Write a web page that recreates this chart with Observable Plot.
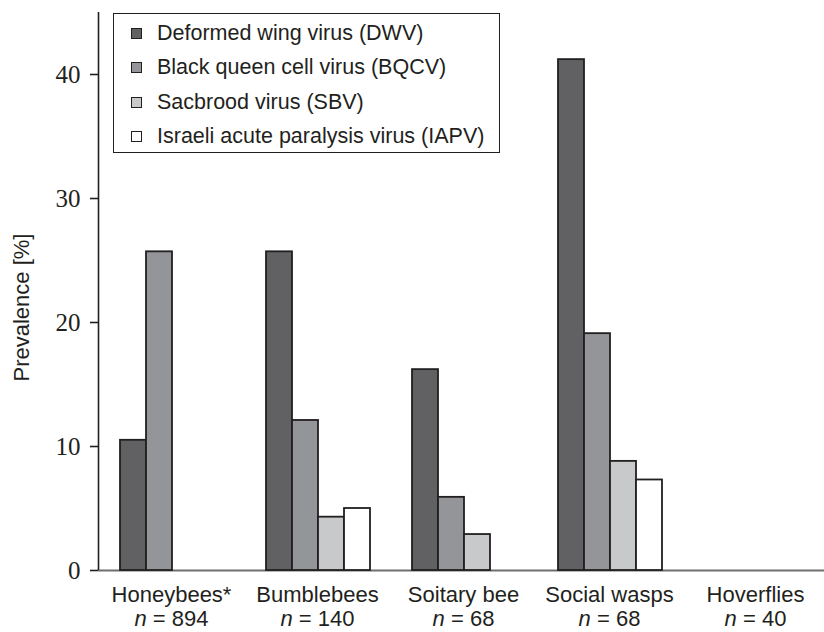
<!DOCTYPE html>
<html>
<head>
<meta charset="utf-8">
<script src="https://cdn.jsdelivr.net/npm/d3@7"></script>
<script src="https://cdn.jsdelivr.net/npm/@observablehq/plot@0.6"></script>
<style>
  body { margin: 0; background: #fff; }
  #wrap { position: relative; width: 824px; height: 632px; overflow: hidden; background: #fff; }
  #wrap svg { position: absolute; left: 0; top: 0; }
  #wrap g[aria-label="y-axis tick label"] { font-family: "Liberation Serif", "DejaVu Serif", serif; font-size: 25px; fill: #231f20; }
  #wrap g[aria-label="y-axis label"] { font-family: "Liberation Sans", Arial, sans-serif; font-size: 22px; fill: #231f20; }
  #wrap g[aria-label="fx-axis tick label"] { font-family: "Liberation Sans", Arial, sans-serif; font-size: 22px; fill: #231f20; }
  #legend { position: absolute; left: 113px; top: 13px; width: 385px; height: 136px; border: 1.6px solid #231f20; background: #fff;
            font-family: "Liberation Sans", Arial, sans-serif; font-size: 21.5px; color: #231f20; padding-top: 2px; }
  #legend .row { display: flex; align-items: center; height: 34.5px; }
  #legend .sw { width: 9px; height: 9px; border: 1.6px solid #231f20; margin-left: 17px; margin-right: 15px; flex: none; }
</style>
</head>
<body>
<div id="wrap"></div>
<script>
// ---- data ----
const groups = ["Honeybees*", "Bumblebees", "Soitary bee", "Social wasps", "Hoverflies"];
const sampleSizes = [894, 140, 68, 68, 40];
const viruses = [
  "Deformed wing virus (DWV)",
  "Black queen cell virus (BQCV)",
  "Sacbrood virus (SBV)",
  "Israeli acute paralysis virus (IAPV)"
];
const dwv  = [10.5, 25.7, 16.2, 41.2, 0];
const bqcv = [25.7, 12.1, 5.9, 19.1, 0];
const sbv  = [0, 4.3, 2.9, 8.8, 0];
const iapv = [0, 5.0, 0, 7.3, 0];
const yTicks = [0, 10, 20, 30, 40];
const virusColors = ["#616163", "#939598", "#c8c9cb", "#ffffff"];

const series = [dwv, bqcv, sbv, iapv];
const rows = [];
groups.forEach((g, gi) => viruses.forEach((v, vi) => {
  const value = series[vi][gi];
  if (value > 0) rows.push({group: g, virus: v, value});
}));
const nByGroup = new Map(groups.map((g, i) => [g, sampleSizes[i]]));

// ---- layout ----
const W = 824, H = 632, mL = 98, mT = 12, mB = 62;
const ink = "#231f20";

const axes = Plot.plot({
  width: W, height: H,
  marginLeft: mL, marginRight: 0, marginTop: mT, marginBottom: mB,
  style: {background: "transparent", overflow: "visible"},
  x: {domain: [0, 1], axis: null},
  y: {domain: [0, 45], axis: null},
  marks: [
    Plot.ruleY([0], {stroke: "#6d6e70", strokeWidth: 2}),
    Plot.ruleX([0], {stroke: ink, strokeWidth: 1.6}),
    Plot.axisY(yTicks, {
      tickSize: 8, tickPadding: 10, stroke: ink, strokeWidth: 1.6,
      label: "Prevalence [%]", labelAnchor: "center", labelOffset: 85, labelArrow: "none"
    })
  ]
});

const bars = Plot.plot({
  width: W, height: H,
  marginLeft: mL, marginRight: -4, marginTop: mT, marginBottom: mB,
  style: {background: "transparent", overflow: "visible"},
  fx: {domain: groups, padding: 0, label: null},
  x: {domain: viruses, paddingInner: 0, paddingOuter: 0.734, align: 0.52, axis: null},
  y: {domain: [0, 45], axis: null},
  color: {domain: viruses, range: virusColors},
  marks: [
    Plot.barY(rows, {fx: "group", x: "virus", y: "value", fill: "virus", stroke: ink, strokeWidth: 1.8}),
    Plot.axisFx({
      anchor: "bottom", tickSize: 0, tickPadding: 14, label: null, lineHeight: 1.1,
      tickFormat: d => `${d}\nn = ${nByGroup.get(d)}`
    })
  ]
});

const wrap = document.getElementById("wrap");
wrap.appendChild(axes);
wrap.appendChild(bars);

// shift y label down a little (rotated text)
const yl = axes.querySelector('g[aria-label="y-axis label"]');
if (yl) yl.setAttribute("transform", (yl.getAttribute("transform") || "") + " translate(0,16)");

// italic "n" in sample size lines
bars.querySelectorAll('g[aria-label="fx-axis tick label"] tspan').forEach(ts => {
  const t = ts.textContent;
  if (t.startsWith("n =")) {
    ts.textContent = "";
    const it = document.createElementNS("http://www.w3.org/2000/svg", "tspan");
    it.setAttribute("font-style", "italic");
    it.textContent = "n";
    ts.appendChild(it);
    ts.appendChild(document.createTextNode(t.slice(1)));
  }
});

// legend built from the color scale
const color = bars.scale("color");
const legend = document.createElement("div");
legend.id = "legend";
color.domain.forEach((d, i) => {
  const row = document.createElement("div");
  row.className = "row";
  const sw = document.createElement("span");
  sw.className = "sw";
  sw.style.background = color.range[i];
  row.appendChild(sw);
  row.appendChild(document.createTextNode(d));
  legend.appendChild(row);
});
wrap.appendChild(legend);
</script>
</body>
</html>
